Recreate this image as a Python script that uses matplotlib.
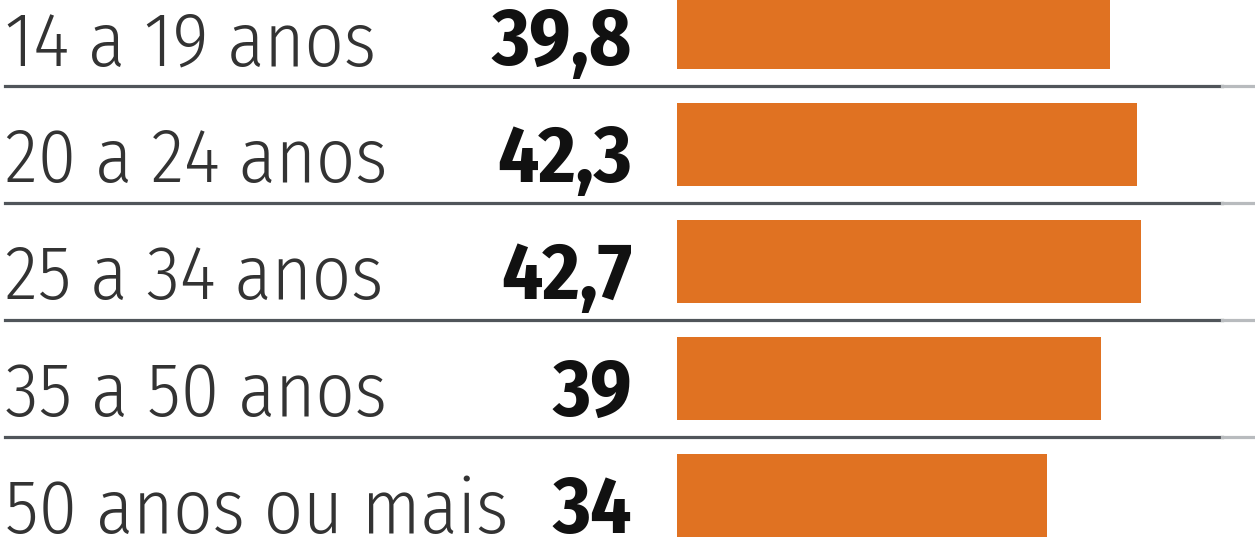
import matplotlib
matplotlib.use("Agg")
import matplotlib.pyplot as plt

categories = ["14 a 19 anos", "20 a 24 anos", "25 a 34 anos", "35 a 50 anos", "50 anos ou mais"]
values = [39.8, 42.3, 42.7, 39, 34]
value_labels = ["39,8", "42,3", "42,7", "39", "34"]

W, H = 1255, 548
fig = plt.figure(figsize=(W / 100, H / 100), dpi=100)
ax = fig.add_axes([0, 0, 1, 1])

px_per_unit = 10.87
x0_px = 677
ax.set_xlim(-x0_px / px_per_unit, (W - x0_px) / px_per_unit)
row_px = 117
first_center = 27.5
ax.set_ylim(len(categories) - 1 + (H - (first_center + row_px * (len(categories) - 1))) / row_px,
            -first_center / row_px)
ax.axis("off")

bar_h = 83 / row_px
ypos = list(range(len(categories)))
ax.barh(ypos, values, height=bar_h, left=0, color="#E07222", zorder=2)

for i in range(len(categories) - 1):
    ax.axhline(i + 0.5, xmin=5 / W, xmax=1222 / W, color="#50555a", lw=2.3, zorder=1)
    ax.axhline(i + 0.5, xmin=1222 / W, xmax=1, color="#b8bbbe", lw=2.3, zorder=1)

fam = ["Fira Sans Condensed", "Fira Sans Extra Condensed", "IBM Plex Sans Condensed", "DejaVu Sans"]
label_x = (5 - x0_px) / px_per_unit
value_x = (632 - x0_px) / px_per_unit
base_off = bar_h / 2 - 4 / row_px
for y, cat, vl in zip(ypos, categories, value_labels):
    ax.text(label_x, y + base_off, cat, ha="left", va="baseline", fontsize=55,
            family=fam, fontweight=300, color="#333333")
    ax.text(value_x, y + base_off, vl, ha="right", va="baseline", fontsize=58, fontweight="bold",
            family=fam, color="#111111")

fig.savefig("out.png", dpi=100, facecolor="white")
